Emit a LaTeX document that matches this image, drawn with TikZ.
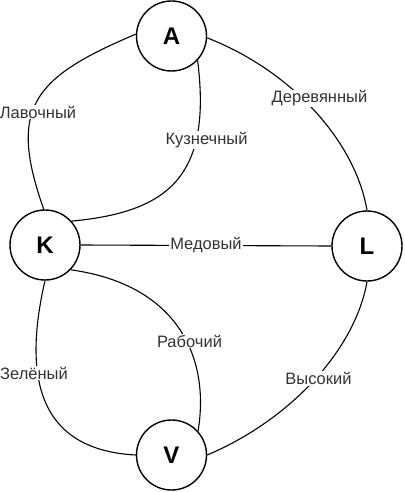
\documentclass[tikz,border=0pt]{standalone}
\usepackage{fontspec}
\setmainfont{Liberation Sans}
\begin{document}
\begin{tikzpicture}[x=1pt,y=-1pt,
  vert/.style={circle,draw=black,line width=1.4pt,minimum size=70pt,inner sep=0pt,fill=white,font=\fontsize{24}{26}\selectfont\bfseries},
  edge/.style={draw=black,line width=1.1pt},
  elabel/.style={fill=white,inner sep=1pt,text=black!80,font=\fontsize{16.5}{18}\selectfont}]
\useasboundingbox (0,0) rectangle (404,492);
\node[vert] (A) at (171.5,36) {A};
\node[vert] (K) at (45,245) {K};
\node[vert] (L) at (367,246) {L};
\node[vert] (V) at (171.5,455) {V};
% edges
\draw[edge] (A.177) .. controls (32,78) and (8,108) .. (K.92);
\draw[edge] (A.-43) .. controls (212,175) and (170,212) .. (K.42);
\draw[edge] (A.-3) .. controls (290,70) and (355,140) .. (L.90);
\draw[edge] (K.east) -- (L.west);
\draw[edge] (K.-90) .. controls (22,380) and (40,450) .. (V.180);
\draw[edge] (K.-44) .. controls (180,285) and (210,360) .. (V.42);
\draw[edge] (L.-90) .. controls (355,350) and (290,420) .. (V.east);
% labels
\node[elabel] (lav) at (38,112) {Лавочный};
\node[elabel] (kuz) at (206.5,140) {Кузнечный};
\node[elabel] (der) at (319.5,98.5) {Деревянный};
\node[elabel] (med) at (206,245) {Медовый};
\node[elabel] (rab) at (189.5,341) {Рабочий};
\node[elabel] (zel) at (34,373) {Зелёный};
\node[elabel] (vys) at (318.5,378.5) {Высокий};
\end{tikzpicture}
\end{document}
